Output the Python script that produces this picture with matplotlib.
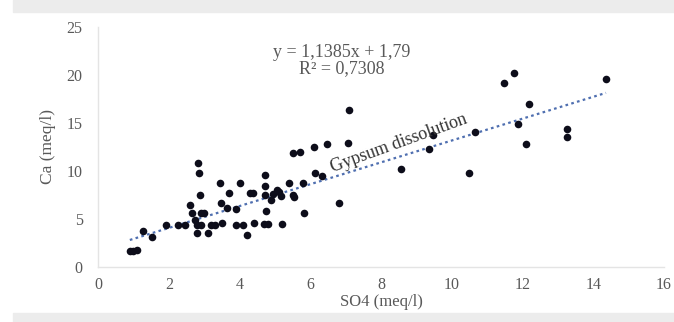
import numpy as np
import matplotlib.pyplot as plt
from matplotlib.patches import Rectangle

# SO4 vs Ca concentrations (meq/l)
so4 = [0.90, 1.00, 1.10, 1.27, 1.54, 1.92, 2.25, 2.45, 2.61, 2.67, 2.73, 2.80,
       2.82, 2.85, 2.89, 2.80, 3.10, 2.90, 3.00, 2.90, 3.20, 3.30, 3.50,
       3.46, 3.48, 3.70, 3.64, 3.90, 4.00, 3.90, 4.10, 4.20, 4.30, 4.37,
       4.40, 4.70, 4.80, 4.73, 4.73, 4.73, 4.76, 4.90, 4.95, 5.05, 5.12, 5.18,
       5.20, 5.40, 5.50, 5.53, 5.50, 5.70, 5.80, 5.83, 6.10, 6.13, 6.33, 6.47,
       6.80, 7.10, 7.06, 8.56, 9.35, 9.47, 10.50, 10.65, 11.48, 11.77, 11.86,
       12.10, 12.17, 13.26, 13.26, 14.36]
ca = [1.70, 1.70, 1.75, 3.70, 3.16, 4.40, 4.40, 4.40, 6.50, 5.60, 4.90, 4.40,
      10.80, 9.80, 7.50, 3.50, 3.50, 5.60, 5.60, 4.40, 4.40, 4.40, 4.60,
      8.70, 6.70, 7.70, 6.10, 6.00, 8.70, 4.40, 4.40, 3.30, 7.70, 7.70,
      4.60, 4.50, 4.50, 9.60, 8.40, 7.50, 5.80, 7.00, 7.60, 8.00, 7.80, 7.40,
      4.50, 8.70, 7.50, 7.30, 11.90, 11.95, 8.70, 5.60, 12.50, 9.80, 9.50, 12.80,
      6.70, 16.40, 12.90, 10.20, 12.30, 13.70, 9.75, 14.10, 19.20, 20.20, 14.90,
      12.80, 17.00, 14.40, 13.50, 19.60]

# trend line coefficients
slope, intercept = 1.1385, 1.79
x_ticks = [0, 2, 4, 6, 8, 10, 12, 14, 16]
y_ticks = [0, 5, 10, 15, 20, 25]

plt.rcParams['font.family'] = ['Liberation Serif', 'DejaVu Serif']
text_color = '#595959'

fig = plt.figure(figsize=(6.74, 3.22), dpi=100)
# light grey bands top and bottom
fig.patches.append(Rectangle((13 / 674, 1 - 12 / 322), 1, 12 / 322,
                             transform=fig.transFigure, color='#ececec', zorder=0))
fig.patches.append(Rectangle((13 / 674, 0), 1, 9 / 322,
                             transform=fig.transFigure, color='#ececec', zorder=0))

ax = fig.add_axes([98 / 674, 1 - 267 / 322, (664 - 98) / 674, (267 - 27) / 322])
ax.scatter(so4, ca, s=30, color='#0d0d1a', zorder=3, linewidths=0)

xl = np.array([min(so4), max(so4)])
ax.plot(xl, slope * xl + intercept, linestyle=(0, (1.2, 1.5)), color='#4f6fb0',
        linewidth=1.6, zorder=2)

ax.set_xlim(0, 16)
ax.set_ylim(0, 25)
ax.set_xticks(x_ticks)
ax.set_yticks(y_ticks)
ax.tick_params(axis='x', length=0, labelsize=11.5, colors=text_color, pad=7)
ax.tick_params(axis='y', length=0, labelsize=11.5, colors=text_color, pad=11)
for side in ['top', 'right']:
    ax.spines[side].set_visible(False)
for side in ['left', 'bottom']:
    ax.spines[side].set_color('#e4e4e4')
    ax.spines[side].set_linewidth(1.0)

ax.set_xlabel('SO4 (meq/l)', fontsize=12, color=text_color, labelpad=1)
ax.set_ylabel('Ca (meq/l)', fontsize=12.5, color=text_color, labelpad=8)

ax.text(6.9, 21.5, 'y = 1,1385x + 1,79\nR² = 0,7308', ha='center', va='center',
        fontsize=13, color=text_color, linespacing=0.95)
ax.text(8.5, 12.9, 'Gypsum dissolution', ha='center', va='center', rotation=20,
        fontsize=13, color='#333333')

fig.savefig('out.png', dpi=100)
